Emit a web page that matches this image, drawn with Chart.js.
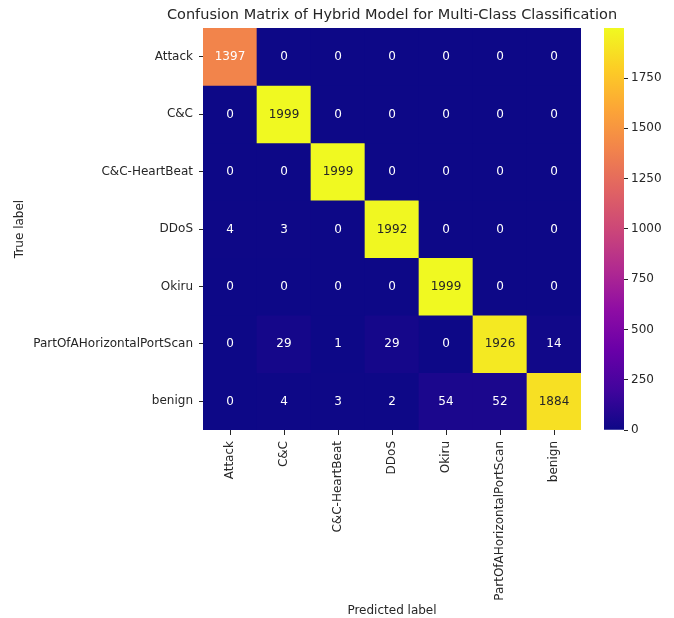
<!DOCTYPE html>
<html>
<head>
<meta charset="utf-8">
<script src="https://cdn.jsdelivr.net/npm/chart.js@4.4.1/dist/chart.umd.min.js"></script>
<style>
  html, body { margin: 0; padding: 0; background: #fff; }
  #wrap { position: relative; width: 674px; height: 618px; }
  #main { position: absolute; left: 0; top: 0; }
  #cbar { position: absolute; left: 600px; top: 0; }
</style>
</head>
<body>
<div id="wrap">
  <canvas id="main" width="674" height="618"></canvas>
  <canvas id="cbar" width="74" height="618"></canvas>
</div>
<script>
// ---- Data ----
const classLabels = ['Attack', 'C&C', 'C&C-HeartBeat', 'DDoS', 'Okiru', 'PartOfAHorizontalPortScan', 'benign'];
const rowAttack    = [1397, 0, 0, 0, 0, 0, 0];
const rowCC        = [0, 1999, 0, 0, 0, 0, 0];
const rowCCHB      = [0, 0, 1999, 0, 0, 0, 0];
const rowDDoS      = [4, 3, 0, 1992, 0, 0, 0];
const rowOkiru     = [0, 0, 0, 0, 1999, 0, 0];
const rowPortScan  = [0, 29, 1, 29, 0, 1926, 14];
const rowBenign    = [0, 4, 3, 2, 54, 52, 1884];
const colorbarTicks = [0, 250, 500, 750, 1000, 1250, 1500, 1750];

const chartTitle = 'Confusion Matrix of Hybrid Model for Multi-Class Classification';
const xTitle = 'Predicted label';
const yTitle = 'True label';

const matrix = [rowAttack, rowCC, rowCCHB, rowDDoS, rowOkiru, rowPortScan, rowBenign];
const vmin = 0;
const vmax = Math.max(...matrix.flat());

// ---- plasma colormap ----
const plasmaStops = ['#0d0887','#41049d','#6a00a8','#8f0da4','#b12a90','#cc4778','#e16462','#f2844b','#fca636','#fcce25','#f0f921'];
function hexToRgb(h) { return [parseInt(h.slice(1,3),16), parseInt(h.slice(3,5),16), parseInt(h.slice(5,7),16)]; }
const plasmaRgb = plasmaStops.map(hexToRgb);
function plasma(t) {
  t = Math.max(0, Math.min(1, t));
  const p = t * (plasmaRgb.length - 1);
  const i = Math.min(Math.floor(p), plasmaRgb.length - 2);
  const f = p - i;
  const a = plasmaRgb[i], b = plasmaRgb[i + 1];
  return [0,1,2].map(k => Math.round(a[k] + (b[k] - a[k]) * f));
}
function rgbStr(c) { return `rgb(${c[0]},${c[1]},${c[2]})`; }
function luminance(c) {
  const lin = c.map(v => { v /= 255; return v <= 0.03928 ? v / 12.92 : Math.pow((v + 0.055) / 1.055, 2.4); });
  return 0.2126 * lin[0] + 0.7152 * lin[1] + 0.0722 * lin[2];
}

const FONT = "'DejaVu Sans', 'Liberation Sans', sans-serif";
const TXT = '#262626';
const TICK_SIZE = 12;

const datasets = matrix.map((row, r) => ({
  label: classLabels[r],
  data: row.map((v, c) => ({ x: classLabels[c], y: [r, r + 1], v: v })),
  backgroundColor: row.map(v => rgbStr(plasma((v - vmin) / (vmax - vmin)))),
  borderWidth: 0,
  grouped: false,
  barPercentage: 1,
  categoryPercentage: 1
}));

const annotatePlugin = {
  id: 'annotate',
  afterDatasetsDraw(chart) {
    const ctx = chart.ctx;
    ctx.save();
    ctx.font = `${TICK_SIZE}px ${FONT}`;
    ctx.textAlign = 'center';
    ctx.textBaseline = 'middle';
    chart.data.datasets.forEach((ds, r) => {
      const meta = chart.getDatasetMeta(r);
      meta.data.forEach((el, c) => {
        const v = matrix[r][c];
        const col = plasma((v - vmin) / (vmax - vmin));
        ctx.fillStyle = luminance(col) > 0.408 ? TXT : '#ffffff';
        ctx.fillText(String(v), el.x, (el.y + el.base) / 2 + 0.5);
      });
    });
    ctx.restore();
  }
};

// Title centred over the heatmap area (matplotlib-style axes title)
const axesTitlePlugin = {
  id: 'axesTitle',
  afterDraw(chart) {
    const ctx = chart.ctx;
    const area = chart.chartArea;
    ctx.save();
    ctx.font = `14.5px ${FONT}`;
    ctx.fillStyle = TXT;
    ctx.textAlign = 'center';
    ctx.textBaseline = 'middle';
    ctx.fillText(chartTitle, (area.left + area.right) / 2, area.top - 12.5);
    ctx.restore();
  }
};

new Chart(document.getElementById('main'), {
  type: 'bar',
  data: { labels: classLabels, datasets: datasets },
  options: {
    responsive: false,
    animation: false,
    devicePixelRatio: 1,
    layout: { padding: { top: 28, left: 0, right: 93, bottom: 0 } },
    plugins: {
      legend: { display: false },
      tooltip: { enabled: false },
      title: { display: false }
    },
    scales: {
      x: {
        type: 'category',
        position: 'bottom',
        offset: true,
        grid: { display: true, offset: false, drawOnChartArea: false, drawTicks: true, tickLength: 5, color: TXT, tickColor: TXT, tickWidth: 1 },
        border: { display: false },
        ticks: { color: TXT, font: { family: FONT, size: TICK_SIZE }, minRotation: 90, maxRotation: 90, padding: 6, autoSkip: false },
        title: { display: true, text: xTitle, color: TXT, font: { family: FONT, size: 12 }, padding: { top: 0, bottom: 0 } },
        afterFit(scale) { scale.height = 188; }
      },
      y: {
        type: 'linear',
        position: 'left',
        min: 0,
        max: classLabels.length,
        reverse: true,
        grid: { display: true, drawOnChartArea: false, drawTicks: true, tickLength: 4, color: TXT, tickColor: TXT, tickWidth: 1 },
        border: { display: false },
        afterBuildTicks(scale) { scale.ticks = classLabels.map((_, i) => ({ value: i + 0.5 })); },
        ticks: {
          color: TXT, font: { family: FONT, size: TICK_SIZE }, padding: 6, autoSkip: false,
          callback(value, index) { return classLabels[index]; }
        },
        title: { display: true, text: yTitle, color: TXT, font: { family: FONT, size: 12 }, padding: { top: 13, bottom: 0 } },
        afterFit(scale) { scale.width = 203; }
      }
    }
  },
  plugins: [annotatePlugin, axesTitlePlugin]
});

// ---- Colorbar ----
new Chart(document.getElementById('cbar'), {
  type: 'bar',
  data: {
    labels: [''],
    datasets: [{
      data: [[vmin, vmax]],
      backgroundColor(context) {
        const chart = context.chart;
        const area = chart.chartArea;
        if (!area) return plasmaStops[0];
        const ys = chart.scales.y;
        const g = chart.ctx.createLinearGradient(0, ys.getPixelForValue(vmin), 0, ys.getPixelForValue(vmax));
        plasmaStops.forEach((s, i) => g.addColorStop(i / (plasmaStops.length - 1), s));
        return g;
      },
      borderWidth: 0,
      barPercentage: 1,
      categoryPercentage: 1
    }]
  },
  options: {
    responsive: false,
    animation: false,
    devicePixelRatio: 1,
    layout: { padding: { top: 28, left: 4, right: 0, bottom: 188 } },
    plugins: { legend: { display: false }, tooltip: { enabled: false }, title: { display: false } },
    scales: {
      x: { display: false },
      y: {
        type: 'linear',
        position: 'right',
        min: vmin,
        max: vmax,
        grid: { display: true, drawOnChartArea: false, drawTicks: true, tickLength: 4, color: TXT, tickColor: TXT, tickWidth: 1 },
        border: { display: false },
        afterBuildTicks(scale) { scale.ticks = colorbarTicks.map(v => ({ value: v })); },
        ticks: { color: TXT, font: { family: FONT, size: TICK_SIZE }, padding: 3, autoSkip: false,
          callback(value) { return String(value); } },
        afterFit(scale) { scale.width = 50; }
      }
    }
  }
});
</script>
</body>
</html>
